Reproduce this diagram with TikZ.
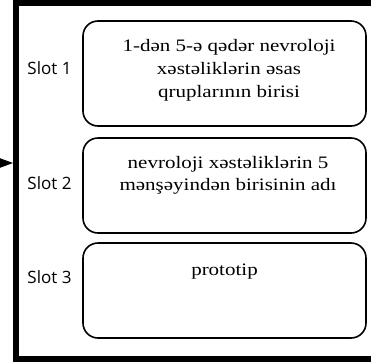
\documentclass[tikz,border=0pt]{standalone}
\usepackage{fontspec}
\usetikzlibrary{arrows.meta}
\newfontfamily\serifw[FakeStretch=1.2]{Liberation Serif}
\newfontfamily\slotf{Open Sans}
\tikzset{
  slotbox/.style={draw=black, line width=1.6pt, rounded corners=15pt, inner sep=0pt},
  slotlabel/.style={font=\slotf\fontsize{17}{20}\selectfont, anchor=base, inner sep=0pt},
  boxtext/.style={font=\serifw\fontsize{17.5}{22.5}\selectfont, align=center, anchor=base, inner sep=0pt},
  frame/.style={line width=6pt, line cap=butt},
  inarrow/.style={line width=1.2pt, -{Triangle[length=14pt,width=10pt]}}
}
\begin{document}
\begin{tikzpicture}[x=1pt, y=-1pt]
\useasboundingbox (0,0) rectangle (371,362);
% outer frame (open on the right)
\coordinate (ftr) at (375,3);
\coordinate (ftl) at (16,3);
\coordinate (fbl) at (16,359);
\coordinate (fbr) at (375,359);
\draw[frame] (ftr) -- (ftl) -- (fbl) -- (fbr);
% input arrow
\coordinate (src) at (0,163);
\coordinate (inp) at (13,163);
\draw[inarrow] (src) -- (inp);
% boxes
\node[slotbox, minimum width=283pt, minimum height=105pt] (b1) at (224.5,73.5) {};
\node[slotbox, minimum width=283pt, minimum height=95pt] (b2) at (224.5,185.5) {};
\node[slotbox, minimum width=283pt, minimum height=95pt] (b3) at (224.5,290.5) {};
% slot labels
\node[slotlabel] (s1) at (49.5,74) {Slot 1};
\node[slotlabel] (s2) at (49.5,189) {Slot 2};
\node[slotlabel] (s3) at (49.5,283) {Slot 3};
% texts
\node[boxtext] (t1a) at (229,51.7) {1-dən 5-ə qədər nevroloji};
\node[boxtext] (t1b) at (229,74.5) {xəstəliklərin əsas};
\node[boxtext] (t1c) at (229,97) {qruplarının birisi};
\node[boxtext] (t2a) at (228,168) {nevroloji xəstəliklərin 5};
\node[boxtext] (t2b) at (228,190) {mənşəyindən birisinin adı};
\node[boxtext] (t3) at (224.5,275) {prototip};
\end{tikzpicture}
\end{document}
